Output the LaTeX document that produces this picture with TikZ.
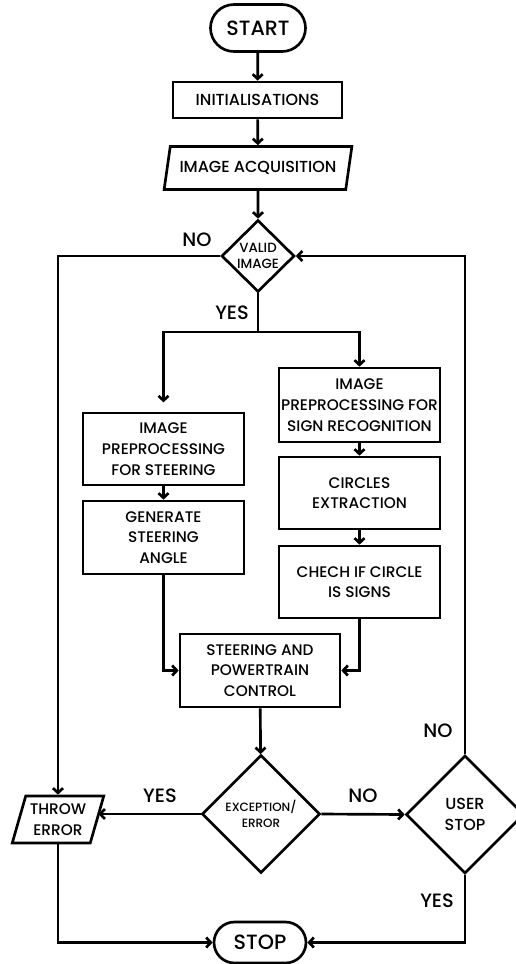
\documentclass[tikz,border=0pt]{standalone}
\usepackage{fontspec}
\setmainfont{Poppins}[UprightFont={* Medium}]
\usetikzlibrary{shapes.geometric,shapes.misc,arrows.meta}

\begin{document}
\begin{tikzpicture}[x=0.75pt,y=0.75pt,yscale=-1,xscale=1,
  every node/.style={font=\fontsize{11.5}{15.5}\selectfont,align=center,inner sep=0.75pt},
  procbox/.style={draw,line width=2pt,rectangle,minimum width=120.75pt,minimum height=54pt},
  iobox/.style={draw,line width=2pt,trapezium,trapezium left angle=70,trapezium right angle=110,trapezium stretches=true},
  decision/.style={draw,line width=2pt,diamond,inner sep=0pt},
  pill/.style={draw,line width=2pt,rounded rectangle,font=\fontsize{15.5}{17}\selectfont},
  lbl/.style={font=\fontsize{14.5}{16}\selectfont},
  link/.style={line width=2pt},
  flow/.style={line width=2pt,-{Straight Barb[length=3.5pt,width=7.5pt]}}
]
\useasboundingbox (0,0) rectangle (515,964);

%Shape: Terminal
\node[pill,minimum width=72.75pt,minimum height=35.25pt] (start) at (258,28) {START};
%Shape: Process
\node[procbox,minimum width=126.75pt,minimum height=27pt,font=\fontsize{12}{15.5}\selectfont] (init) at (257.5,100) {INITIALISATIONS};
%Shape: Input
\node[iobox,minimum width=141pt,minimum height=32.25pt,font=\fontsize{12}{15.5}\selectfont] (acq) at (258,168) {IMAGE ACQUISITION};
%Shape: Decision
\node[decision,minimum width=54.75pt,minimum height=54pt,inner sep=-4pt,font=\fontsize{10}{12}\selectfont] (valid) at (258,256) {VALID\\IMAGE};
\coordinate (split) at (258,332);

%Shape: Steering branch
\node[procbox] (prepsteer) at (163.5,449) {IMAGE\\PREPROCESSING\\FOR STEERING};
\node[procbox,minimum height=54.75pt] (genangle) at (163.5,537.5) {GENERATE\\STEERING\\ANGLE};

%Shape: Sign branch
\node[procbox,minimum height=55.5pt] (prepsign) at (359.5,405) {IMAGE\\PREPROCESSING FOR\\SIGN RECOGNITION};
\node[procbox] (circles) at (359.5,493) {CIRCLES\\EXTRACTION};
\node[procbox] (checksign) at (359.5,582) {CHECH IF CIRCLE\\IS SIGNS};

%Shape: Control
\node[procbox,minimum width=120pt,minimum height=54.75pt] (control) at (260,670.5) {STEERING AND\\POWERTRAIN\\CONTROL};

%Shape: Decisions
\node[decision,minimum size=88.5pt,font=\fontsize{9}{12.5}\selectfont] (except) at (261,814) {EXCEPTION/\\ERROR};
\node[decision,minimum size=88.5pt,font=\fontsize{12}{15.5}\selectfont] (userstop) at (465,814.5) {USER\\STOP};
\node[iobox,minimum width=69pt,minimum height=35.25pt] (throw) at (58,819.5) {THROW\\ERROR};

%Shape: Terminal
\node[pill,minimum width=70.5pt,minimum height=30.75pt] (stop) at (260,942.5) {STOP};

% Text Node
\node[lbl] (novalid) at (197,240) {NO};
\node[lbl] (yesvalid) at (232,313) {YES};
\node[lbl] (yesexcept) at (160,796) {YES};
\node[lbl] (noexcept) at (363,796) {NO};
\node[lbl] (nouser) at (438,731) {NO};
\node[lbl] (yesuser) at (437,901) {YES};

%Straight Lines
\draw[flow] (start) -- (init);
\draw[flow] (init) -- (acq);
\draw[flow] (acq) -- (valid);
\draw[link] (valid) -- (split);
\draw[flow,shorten >=7pt] (split) -| (prepsteer.north);
\draw[flow] (split) -| (prepsign.north);
\draw[flow] (prepsteer) -- (genangle);
\draw[flow] (prepsign) -- (circles);
\draw[flow] (circles) -- (checksign);
\draw[flow] (genangle.south) |- (control.west);
\draw[flow] (checksign.south) |- (control.east);
\draw[flow] (control) -- (except);
\draw[flow] (except.west) -- (except.west -| throw.east);
\draw[flow] (except.east) -- (userstop.west);
\draw[flow] (valid.west) -| (throw.north);
\draw[flow] (userstop.north) |- (valid.east);
\draw[flow] (throw.south) |- (stop.west);
\draw[flow] (userstop.south) |- (stop.east);

\end{tikzpicture}
\end{document}
